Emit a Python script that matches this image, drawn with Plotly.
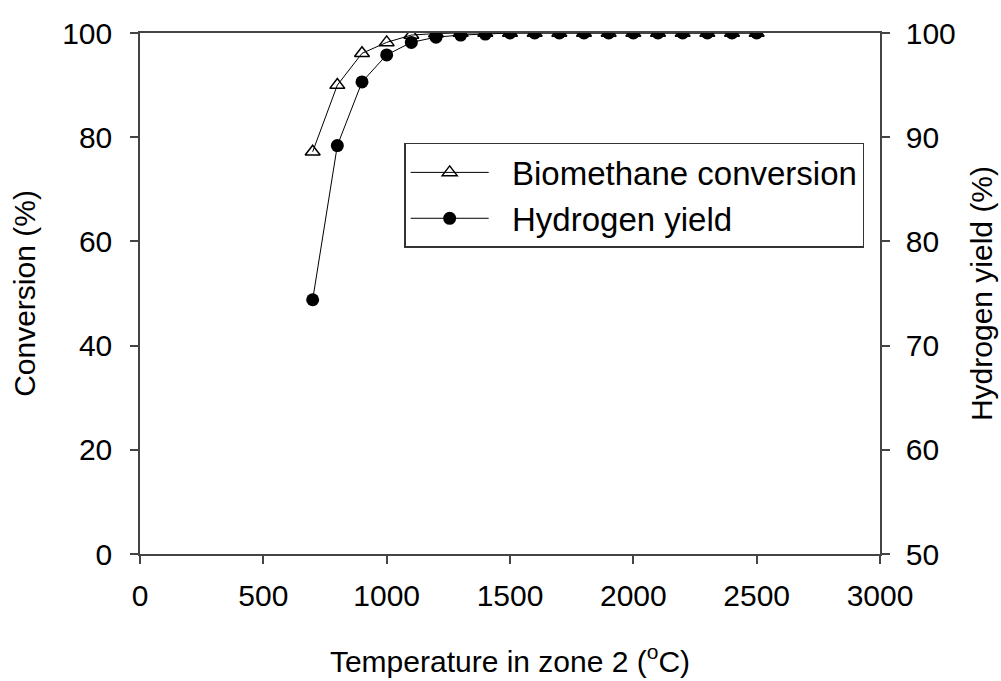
import plotly.graph_objects as go

temperature = [700, 800, 900, 1000, 1100, 1200, 1300, 1400, 1500, 1600,
               1700, 1800, 1900, 2000, 2100, 2200, 2300, 2400, 2500]
biomethane_conversion = [77.2, 90.0, 96.1, 98.2, 99.6, 99.9, 100, 100, 100, 100,
                         100, 100, 100, 100, 100, 100, 100, 100, 100]
hydrogen_yield = [74.4, 89.2, 95.3, 97.9, 99.1, 99.6, 99.8, 99.9, 100, 100,
                  100, 100, 100, 100, 100, 100, 100, 100, 100]

x_ticks = [0, 500, 1000, 1500, 2000, 2500, 3000]
y1_ticks = [0, 20, 40, 60, 80, 100]
y2_ticks = [50, 60, 70, 80, 90, 100]

FONT = "Liberation Sans, Arial, sans-serif"
PAD = "\u00a0\u00a0"

fig = go.Figure()
fig.add_trace(go.Scatter(
    x=temperature, y=biomethane_conversion, name=PAD + "Biomethane conversion",
    mode="lines+markers", yaxis="y",
    line=dict(color="black", width=1),
    marker=dict(symbol="triangle-up-open", size=13, color="black",
                line=dict(color="black", width=1.5)),
))
fig.add_trace(go.Scatter(
    x=temperature, y=hydrogen_yield, name=PAD + "Hydrogen yield",
    mode="lines+markers", yaxis="y2",
    line=dict(color="black", width=1),
    marker=dict(symbol="circle", size=13, color="black"),
))

axis_common = dict(showgrid=False, zeroline=False, showline=True,
                   linecolor="#444", linewidth=1.5, ticks="outside",
                   ticklen=8, tickwidth=1.5, tickcolor="#444", automargin=False,
                   tickfont=dict(family=FONT, size=30, color="black"))

fig.update_layout(
    width=1001, height=681,
    margin=dict(l=140, r=121, t=33, b=127),
    paper_bgcolor="white", plot_bgcolor="white",
    font=dict(family=FONT, size=30, color="black"),
    showlegend=True,
    xaxis=dict(range=[0, 3000], tickvals=x_ticks, mirror=True,
               ticklabelstandoff=6,
               title=dict(text="Temperature in zone 2 (<sup>o</sup>C)",
                          font=dict(family=FONT, size=30), standoff=40),
               **axis_common),
    yaxis=dict(range=[0, 100], tickvals=y1_ticks, ticklabelstandoff=12,
               title=dict(text="Conversion (%)", font=dict(family=FONT, size=30),
                          standoff=18),
               **axis_common),
    yaxis2=dict(range=[50, 100], tickvals=y2_ticks, overlaying="y", side="right",
                ticklabelstandoff=10,
                title=dict(text="Hydrogen yield (%)", font=dict(family=FONT, size=30),
                           standoff=16),
                **axis_common),
    legend=dict(x=0.357, y=0.789, xanchor="left", yanchor="top",
                bordercolor="#333", borderwidth=1.5, bgcolor="white",
                font=dict(family=FONT, size=33), itemwidth=78,
                tracegroupgap=0),
)

fig.write_html("out.html")
